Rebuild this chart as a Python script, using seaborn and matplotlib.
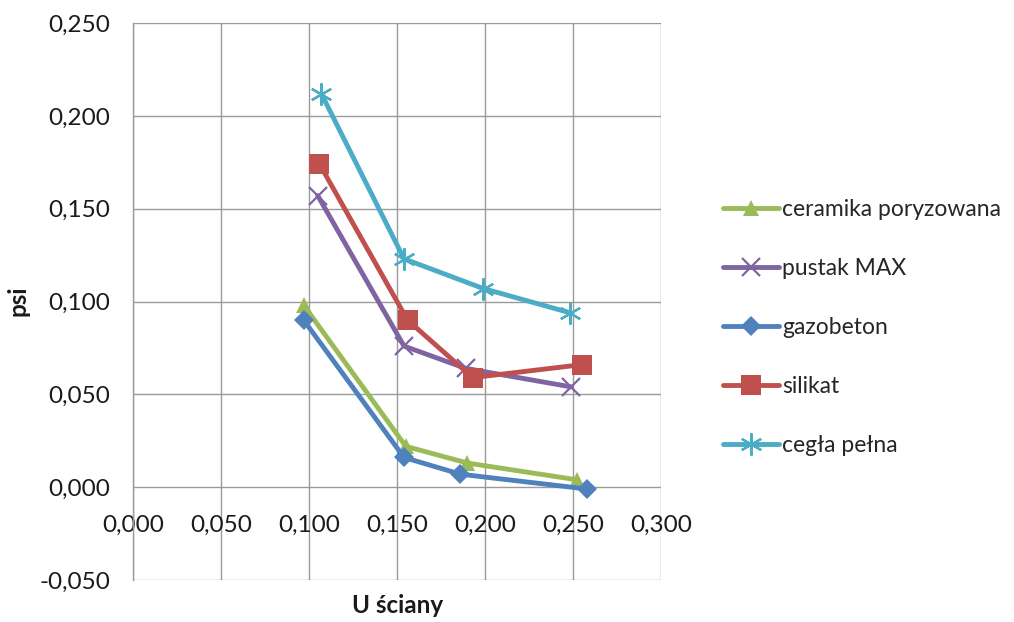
import matplotlib
matplotlib.use("Agg")
import matplotlib.pyplot as plt
import matplotlib.ticker as mticker
import seaborn as sns
import pandas as pd

# Series data: U of the wall (x) vs psi (y)
series_names = ["ceramika poryzowana", "pustak MAX", "gazobeton", "silikat", "cegła pełna"]

ceramika_x = [0.097, 0.155, 0.190, 0.252]
ceramika_y = [0.098, 0.022, 0.013, 0.004]

pustak_x = [0.105, 0.154, 0.189, 0.249]
pustak_y = [0.157, 0.076, 0.064, 0.054]

gazobeton_x = [0.097, 0.154, 0.186, 0.258]
gazobeton_y = [0.090, 0.016, 0.007, -0.001]

silikat_x = [0.106, 0.156, 0.193, 0.255]
silikat_y = [0.174, 0.090, 0.059, 0.066]

cegla_x = [0.107, 0.154, 0.199, 0.248]
cegla_y = [0.212, 0.123, 0.107, 0.094]

x_ticks = [0.0, 0.05, 0.10, 0.15, 0.20, 0.25, 0.30]
y_ticks = [-0.05, 0.0, 0.05, 0.10, 0.15, 0.20, 0.25]

colors = ["#9BBB59", "#8064A2", "#4F81BD", "#C0504D", "#4BACC6"]
markers = ["^", "x", "D", "s", (6, 2, 0)]
marker_sizes = [12, 13, 10, 14, 16]

xs = [ceramika_x, pustak_x, gazobeton_x, silikat_x, cegla_x]
ys = [ceramika_y, pustak_y, gazobeton_y, silikat_y, cegla_y]

frames = []
for name, x, y in zip(series_names, xs, ys):
    frames.append(pd.DataFrame({"U": x, "psi": y, "material": name}))
df = pd.concat(frames, ignore_index=True)

sns.set_theme(style="white")
font_list = ["Lato", "DejaVu Sans"]
plt.rcParams["font.family"] = font_list
FS = 17.5
LEG_FS = 16.5

fig = plt.figure(figsize=(10.14, 6.22), dpi=100)
ax = fig.add_axes([0.131, 0.0675, 0.521, 0.8955])

for name, c, m, ms in zip(series_names, colors, markers, marker_sizes):
    sub = df[df["material"] == name]
    line_marker_kw = dict(marker=m, markersize=ms, color=c, linewidth=3.5,
                          markeredgecolor=c, markerfacecolor=c)
    if m == "x" or isinstance(m, tuple):
        line_marker_kw["markeredgewidth"] = 1.6
    else:
        line_marker_kw["markeredgewidth"] = 0
    sns.lineplot(data=sub, x="U", y="psi", ax=ax, sort=False, label=name,
                 estimator=None, **line_marker_kw)

ax.set_xlim(0, 0.3)
ax.set_ylim(-0.05, 0.25)
ax.xaxis.set_major_locator(mticker.FixedLocator(x_ticks))
ax.yaxis.set_major_locator(mticker.FixedLocator(y_ticks))
fmt = mticker.FuncFormatter(lambda v, p: f"{v:.3f}".replace(".", ","))
ax.xaxis.set_major_formatter(fmt)
ax.yaxis.set_major_formatter(fmt)

ax.grid(True, color="#9a9a9a", linewidth=1.0)
ax.set_axisbelow(True)
for side in ["top", "right"]:
    ax.spines[side].set_visible(False)
ax.spines["left"].set_color("#9a9a9a")
ax.spines["left"].set_linewidth(1.0)
ax.spines["bottom"].set_position(("data", 0))
ax.spines["bottom"].set_visible(False)

ax.tick_params(axis="both", length=0, labelsize=FS, colors="#1a1a1a")
ax.tick_params(axis="y", pad=16)
ax.tick_params(axis="x", pad=20)

ax.set_xlabel("")
ax.set_ylabel("")
fig.text(0.392, 0.027, "U ściany", ha="center", va="center", fontsize=FS,
         fontweight="bold", family=font_list, color="#1a1a1a")
fig.text(0.018, 0.517, "psi", ha="center", va="center", rotation=90, fontsize=FS,
         fontweight="bold", family=font_list, color="#1a1a1a")

handles, labels = ax.get_legend_handles_labels()
if ax.legend_:
    ax.legend_.remove()
fig.legend(handles, labels, loc="center left", bbox_to_anchor=(0.713, 0.473),
           frameon=False, fontsize=LEG_FS, handlelength=2.45, handletextpad=0.12,
           labelspacing=1.66, borderaxespad=0, borderpad=0)

fig.savefig("out.png", dpi=100)
